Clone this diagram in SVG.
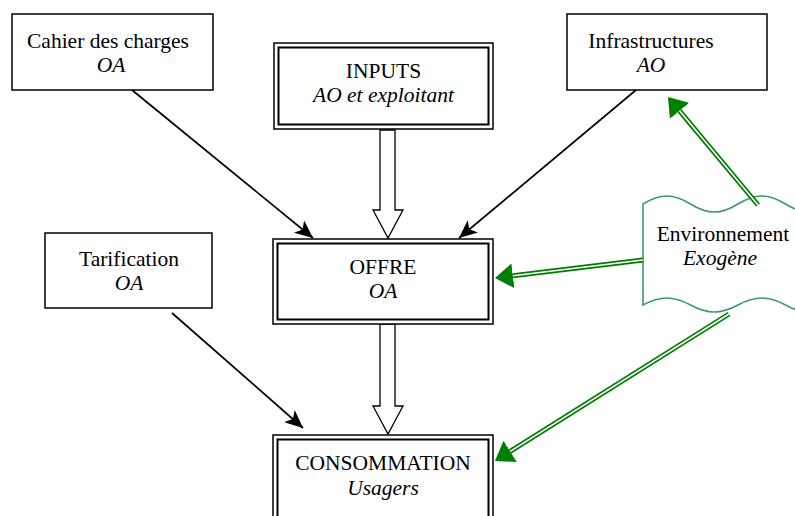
<svg xmlns="http://www.w3.org/2000/svg" width="795" height="516" viewBox="0 0 795 516">
  <style>
    text { font-family: "Liberation Serif", "Times New Roman", serif; font-size: 21.5px; fill: #000; text-anchor: middle; }
    .it { font-style: italic; }
    .box { fill: #fff; stroke: #000; stroke-width: 1.5; }
    .outer { fill: #fff; stroke: #000; stroke-width: 1.5; }
    .inner { fill: none; stroke: #000; stroke-width: 2; }
    .flow { fill: #fff; stroke: #000; stroke-width: 1.3; stroke-linejoin: miter; }
    .link { fill: none; stroke: #000; stroke-width: 1.7; marker-end: url(#stealth); }
    .env { fill: none; stroke: #007a00; stroke-width: 5; marker-end: url(#green-head); }
    .env-gap { fill: none; stroke: #fff; stroke-width: 1.6; }
    .wave { fill: #fff; stroke: #3d9a6c; stroke-width: 1.6; }
  </style>
  <defs>
    <marker id="stealth" markerUnits="userSpaceOnUse" markerWidth="19" markerHeight="16" refX="18" refY="8" orient="auto">
      <path d="M0,0 L18,8 L0,16 L4.5,8 Z" fill="#000"/>
    </marker>
    <marker id="green-head" markerUnits="userSpaceOnUse" markerWidth="19" markerHeight="26" refX="0" refY="12.5" orient="auto">
      <path d="M0,0 L18,12.5 L0,25 Z" fill="#008000"/>
    </marker>
  </defs>

  <rect width="795" height="516" fill="#fff"/>

  <!-- block arrows between the main stages -->
  <g id="flow-arrows">
    <polygon class="flow" points="380,130 395,130 395,210 403,210 388,238 373,210 380,210"/>
    <polygon class="flow" points="380,324 395,324 395,406 403,406 388,434 373,406 380,406"/>
  </g>

  <g id="cahier">
    <rect class="box" x="12" y="14" width="201" height="76"/>
    <text x="108" y="48">Cahier des charges</text>
    <text class="it" x="111" y="72">OA</text>
  </g>

  <g id="inputs">
    <rect class="outer" x="274" y="43" width="219" height="86"/>
    <rect class="inner" x="278.5" y="47.5" width="210" height="77"/>
    <text x="383.5" y="78">INPUTS</text>
    <text class="it" x="383.5" y="102">AO et exploitant</text>
  </g>

  <g id="infrastructures">
    <rect class="box" x="567" y="14" width="200" height="76"/>
    <text x="651" y="48">Infrastructures</text>
    <text class="it" x="651" y="72">AO</text>
  </g>

  <g id="tarification">
    <rect class="box" x="45" y="233" width="167" height="75"/>
    <text x="129" y="266">Tarification</text>
    <text class="it" x="129" y="290">OA</text>
  </g>

  <g id="offre">
    <rect class="outer" x="273" y="239" width="220" height="85"/>
    <rect class="inner" x="277.5" y="243.5" width="211" height="76"/>
    <text x="383" y="274">OFFRE</text>
    <text class="it" x="383" y="298">OA</text>
  </g>

  <g id="consommation">
    <rect class="outer" x="273" y="435" width="220" height="100"/>
    <rect class="inner" x="277.5" y="439.5" width="211" height="100"/>
    <text x="383" y="470">CONSOMMATION</text>
    <text class="it" x="383" y="495">Usagers</text>
  </g>

  <g id="environnement">
    <path class="wave" d="M643,204 C660.3,193.3 673.2,193.3 690.5,204 C707.8,214.7 720.7,214.7 738,204 C755.3,193.3 768.2,193.3 785.5,204 C802.8,214.7 815.7,214.7 833,204 L833,305 C815.7,314.3 802.8,314.3 785.5,305 C768.2,295.7 755.3,295.7 738,305 C720.7,314.3 707.8,314.3 690.5,305 C673.2,295.7 660.3,295.7 643,305 Z"/>
    <text x="723" y="241">Environnement</text>
    <text class="it" x="720" y="265">Exogène</text>
  </g>

  <g id="connectors">
    <line class="link" x1="132" y1="90" x2="313" y2="238"/>
    <line class="link" x1="636" y1="90" x2="459" y2="238"/>
    <line class="link" x1="172" y1="313" x2="303" y2="428"/>

    <line class="env" x1="758" y1="205" x2="679.5" y2="110.8"/>
    <line class="env-gap" x1="758" y1="205" x2="679.5" y2="110.8"/>
    <line class="env" x1="643" y1="260" x2="512.9" y2="275.8"/>
    <line class="env-gap" x1="643" y1="260" x2="512.9" y2="275.8"/>
    <line class="env" x1="729" y1="314" x2="510.2" y2="451.4"/>
    <line class="env-gap" x1="729" y1="314" x2="510.2" y2="451.4"/>
  </g>
</svg>
